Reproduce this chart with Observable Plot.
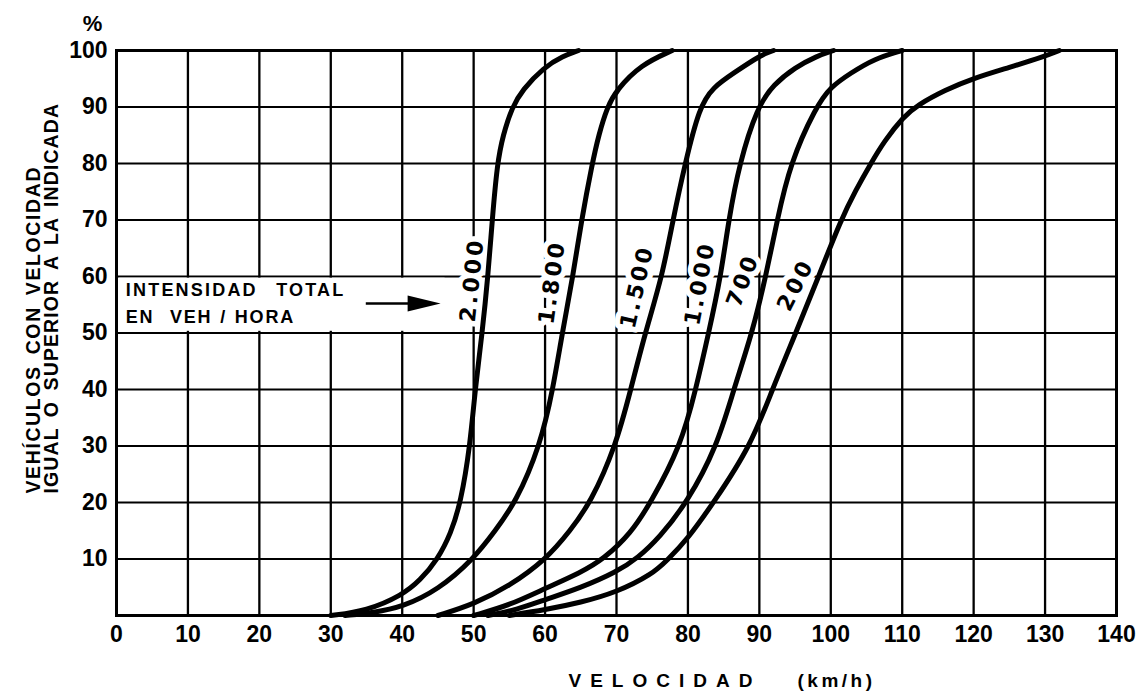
<!DOCTYPE html>
<html><head><meta charset="utf-8">
<script src="https://cdn.jsdelivr.net/npm/d3@7"></script>
<script src="https://cdn.jsdelivr.net/npm/@observablehq/plot@0.6"></script>
<style>body{margin:0;background:#fff} svg{display:block}</style>
</head><body><div id="chart"></div>
<script>
// ---- Data ----
const xTicks = [0,10,20,30,40,50,60,70,80,90,100,110,120,130,140];
const yTicks = [10,20,30,40,50,60,70,80,90,100];

const seriesNames = ["2.000","1.800","1.500","1.000","700","200"];

const speed2000 = [30,35,40,42.5,45,46.8,48.2,49.5,50.2,51.2,52.0,52.6,53.3,54.1,55.4,56.8,59.8,62.5,64.7];
const pct2000   = [0,0.8,3.6,6.2,10,14.5,20,30,40,50,60,70,80,85,90,93,97,99,100];

const speed1800 = [32,36,40,45,50,53,55.9,59.3,61.1,62.4,63.9,65.1,66.6,67.5,68.7,70,73.4,77.8];
const pct1800   = [0,0.5,1.5,4.5,10,15,20,30,40,50,60,70,80,85,90,93,97.5,100];

const speed1500 = [45,50,55,60.2,63.5,66.4,69.9,72.0,74.0,76.4,77.9,79.6,81.6,83.5,86.4,90.2,92];
const pct1500   = [0,2,5.2,10,15,20,30,40,50,60,70,80,90,93.5,96,99.2,100];

const speed1000 = [50,55,60,65,68.2,72,74.8,79,81.1,82.9,84.6,85.7,87.2,89.7,92,95,98,100.4];
const pct1000   = [0,1.8,4.8,7.6,10,14.5,20,30,40,50,60,70,80,90,94,97,99,100];

const speed700 = [52,56,60,65,70,73,76,79.9,84.1,86.4,89.0,90.9,92.5,94.3,97.9,100,102.8,106,110];
const pct700   = [0,1,2.8,4.9,7.7,10.2,13.8,20,30,40,50,60,70,80,90,93.6,96,98.5,100];

const speed200 = [55,60,65,70,75,77.1,80,83.6,88.8,91.8,95.1,98.3,101.4,103.5,105.6,107.5,110.2,112.1,116,120,125,130,132];
const pct200   = [0,1,2.3,4.1,7.3,9.8,13.6,20,30,40,50,60,70,75.3,80,84,88.3,90.3,93,95.1,97,99,100];

// curve labels (position in data units, rotation)
const labelSpeed = [49.8,61.0,72.9,81.7,87.7,95.1];
const labelPct   = [59.4,59.0,58.2,58.8,59.3,58.5];
const labelAngle = [-84,-82,-77,-79,-69,-63];

// annotation
const noteLines = ["INTENSIDAD\u00A0\u00A0TOTAL","EN\u00A0\u00A0VEH / HORA"];
const notePct = [57.6,52.8];
const noteSpeed = 1.3;
const boxSpeed = [0.4,46];
const boxPct = [50.3,59.7];
const arrowSpeed = [34.9,41];
const arrowPct = 55.2;
const arrowHeadSpeed = 43.0;

const yTitle1 = "VEHÍCULOS CON VELOCIDAD";
const yTitle2 = "IGUAL O SUPERIOR A LA INDICADA";
const xTitle1 = "VELOCIDAD";
const xTitle2 = "(km/h)";
const yUnit = "%";

// ---- Build tables ----
const speeds = [speed2000,speed1800,speed1500,speed1000,speed700,speed200];
const pcts = [pct2000,pct1800,pct1500,pct1000,pct700,pct200];
const curveRows = [];
seriesNames.forEach((s,i)=>speeds[i].forEach((v,j)=>curveRows.push({series:s,v,p:pcts[i][j]})));
const labelRows = seriesNames.map((s,i)=>({label:s,v:labelSpeed[i],p:labelPct[i],a:labelAngle[i]}));
const noteRows = noteLines.map((t,i)=>({t,p:notePct[i],v:noteSpeed}));

const headSymbol = {draw(ctx){ctx.moveTo(17,0);ctx.lineTo(-16,-8);ctx.lineTo(-16,8);ctx.closePath();}};

const font = "'Liberation Sans', Arial, Helvetica, sans-serif";

const chart = Plot.plot({
  width:1138, height:694,
  marginLeft:116, marginRight:22, marginTop:50, marginBottom:79,
  style:{fontFamily:font, background:"white", color:"black"},
  x:{domain:[0,140]},
  y:{domain:[0,100]},
  marks:[
    Plot.ruleX(xTicks,{stroke:"black",strokeWidth:2.3}),
    Plot.ruleY(yTicks,{stroke:"black",strokeWidth:1.8}),
    Plot.rect([0],{x1:boxSpeed[0],x2:boxSpeed[1],y1:boxPct[0],y2:boxPct[1],fill:"white"}),
    Plot.text(noteRows,{x:"v",y:"p",text:"t",textAnchor:"start",fontSize:18,fontWeight:"bold",fill:"black"}),
    Plot.link([0],{x1:arrowSpeed[0],x2:arrowSpeed[1],y1:arrowPct,y2:arrowPct,stroke:"black",strokeWidth:2.5}),
    Plot.dot([0],{x:arrowHeadSpeed,y:arrowPct,symbol:headSymbol,fill:"black",stroke:null}),
    Plot.text(labelRows,{x:"v",y:"p",text:"label",rotate:"a",fontSize:22,fontWeight:"bold",fontFamily:"'DejaVu Sans', sans-serif",fill:"black",stroke:"white",strokeWidth:11}),
    Plot.line(curveRows,{x:"v",y:"p",z:"series",stroke:"black",strokeWidth:5,curve:"basis"}),
    Plot.frame({stroke:"black",strokeWidth:3}),
    Plot.axisX(xTicks,{tickSize:0,tickPadding:10,fontSize:23,fontWeight:"bold",label:null,tickFormat:d=>String(d)}),
    Plot.axisY(yTicks,{tickSize:0,tickPadding:9,fontSize:23,fontWeight:"bold",label:null,tickFormat:d=>String(d)}),
    Plot.text([yUnit],{frameAnchor:"top-left",dx:-24,dy:-27,textAnchor:"middle",lineAnchor:"middle",fontSize:22,fontWeight:"bold"}),
    Plot.text([yTitle1],{frameAnchor:"bottom-left",dx:-83,dy:-122,rotate:-90,textAnchor:"start",lineAnchor:"middle",fontSize:19.5,fontWeight:"bold"}),
    Plot.text([yTitle2],{frameAnchor:"bottom-left",dx:-65,dy:-122,rotate:-90,textAnchor:"start",lineAnchor:"middle",fontSize:19.5,fontWeight:"bold"}),
    Plot.text([xTitle1],{frameAnchor:"bottom-left",dx:452,dy:65,textAnchor:"start",lineAnchor:"middle",fontSize:19,fontWeight:"bold"}),
    Plot.text([xTitle2],{frameAnchor:"bottom-left",dx:681,dy:65,textAnchor:"start",lineAnchor:"middle",fontSize:19,fontWeight:"bold"})
  ]
});
document.getElementById("chart").appendChild(chart);
const svg = d3.select(chart);
function styleText(str, ls, ws){
  svg.selectAll("text").filter(function(){return this.textContent===str;})
    .attr("letter-spacing", ls).attr("word-spacing", ws);
}
styleText(xTitle1,"9px","0px");
styleText(xTitle2,"3.5px","0px");
styleText(yTitle1,"1.6px","4px");
styleText(yTitle2,"1.1px","4px");
styleText(noteLines[0],"2.2px","2px");
styleText(noteLines[1],"1.8px","1px");
seriesNames.forEach(t=>styleText(t,"3px","0px"));
</script></body></html>
